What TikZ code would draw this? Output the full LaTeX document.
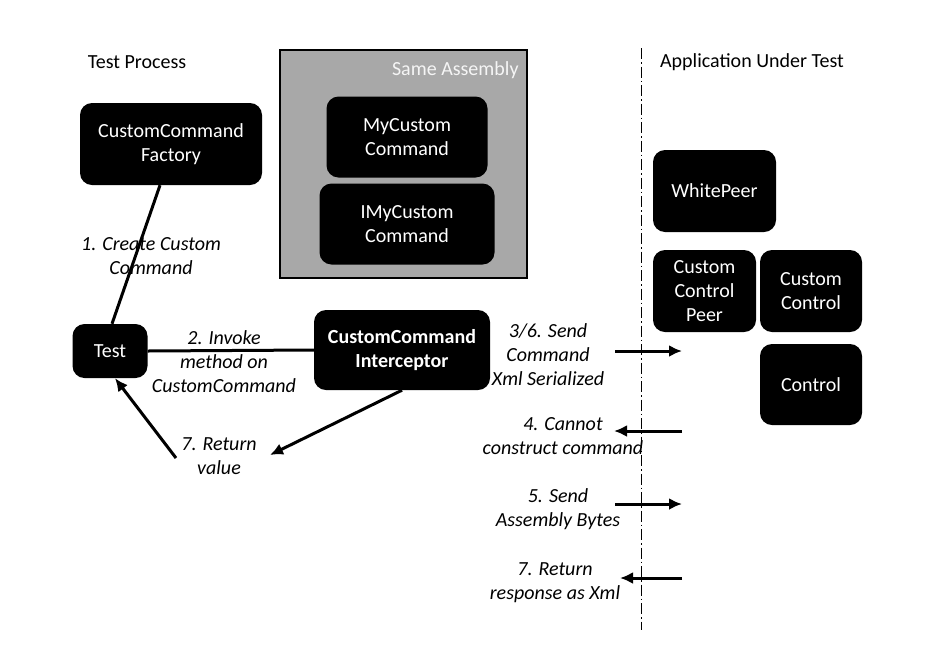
\documentclass[tikz,border=0pt]{standalone}
\usepackage{fontspec}
\setmainfont{Carlito}
\usetikzlibrary{arrows.meta,positioning}
\tikzset{
box/.style={rectangle, rounded corners=12pt, fill=black, text=white, align=center, inner sep=2pt, font=\fontsize{20}{24}\selectfont},
title/.style={font=\fontsize{20}{24}\selectfont},
lbl/.style={align=center, font=\fontsize{20}{24}\selectfont\itshape},
link/.style={line width=3pt},
msg/.style={->, line width=3pt}
}

\begin{document}
\begin{tikzpicture}[x=1pt, y=-1pt, >={Latex[length=13pt,width=12pt]}]
\useasboundingbox (0,0) rectangle (936,662);

% test process side
\node[title] (tp) at (137,62) {Test Process};
\node[box, minimum width=182pt, minimum height=82pt] (factory) at (171,144) {CustomCommand\\Factory};
\node[box, minimum width=75pt, minimum height=54pt] (test) at (110,351) {Test};
\node[box, minimum width=176pt, minimum height=80pt, font=\fontsize{20}{24}\selectfont\bfseries] (icpt) at (402,350) {CustomCommand\\Interceptor};

% same assembly
\node[rectangle, draw=black, line width=1.5pt, fill={rgb,255:red,168;green,168;blue,168}, minimum width=247pt, minimum height=228pt] (asm) at (403.5,164) {};
\node[title, text=white!92!gray, anchor=north east, inner sep=3pt] (asmlbl) at ([xshift=-6pt,yshift=-9pt]asm.north east) {Same Assembly};
\node[box, minimum width=161pt, minimum height=81pt] (mycmd) at (407,137) {MyCustom\\Command};
\node[box, minimum width=175pt, minimum height=81pt] (imycmd) at (407,224) {IMyCustom\\Command};

% application side
\node[title] (aut) at (752,62) {Application Under Test};
\node[box, minimum width=123pt, minimum height=82pt] (wpeer) at (714.5,191) {WhitePeer};
\node[box, minimum width=103pt, minimum height=82pt] (ccpeer) at (704.5,291) {Custom\\Control\\Peer};
\node[box, minimum width=102pt, minimum height=82pt] (cctrl) at (811,291) {Custom\\Control};
\node[box, minimum width=102pt, minimum height=81pt] (ctrl) at (811,384.5) {Control};

% boundary
\coordinate (bt) at (641,48);
\coordinate (bb) at (641,630);
\draw[line width=1pt, dash pattern=on 11pt off 3pt on 1.5pt off 3pt] (bt) -- (bb);

% connectors
\draw[link] ([xshift=-11pt]factory.south) -- ([xshift=2pt]test.north);
\draw[link] (test.east) -- (icpt.west);
\coordinate (r1) at (176,458);
\coordinate (r2) at (270,455);
\draw[msg] (r1) -- ([xshift=5pt]test.south);
\draw[msg] (icpt.south) -- (r2);

\node[lbl] (l1) at (151,256) {1. Create Custom\\Command};
\node[lbl] (l2) at (224,362) {2. Invoke\\method on\\CustomCommand};
\node[lbl] (l7) at (219,456) {7. Return\\value};

% messages across the boundary
\coordinate (m1a) at (615,351);  \coordinate (m1b) at (682,351);
\coordinate (m2a) at (682,431);  \coordinate (m2b) at (614,431);
\coordinate (m3a) at (615,504);  \coordinate (m3b) at (682,504);
\coordinate (m4a) at (682,578);  \coordinate (m4b) at (620,578);
\foreach \value in {1,...,4}
  \draw[msg] (m\value a) -- (m\value b);

\node[lbl] (t1) at (548,355) {3/6. Send\\Command\\Xml Serialized};
\node[lbl] (t2) at (563,436) {4. Cannot\\construct command};
\node[lbl] (t3) at (558,509) {5. Send\\Assembly Bytes};
\node[lbl] (t4) at (555,583) {7. Return\\response as Xml};
\end{tikzpicture}
\end{document}
